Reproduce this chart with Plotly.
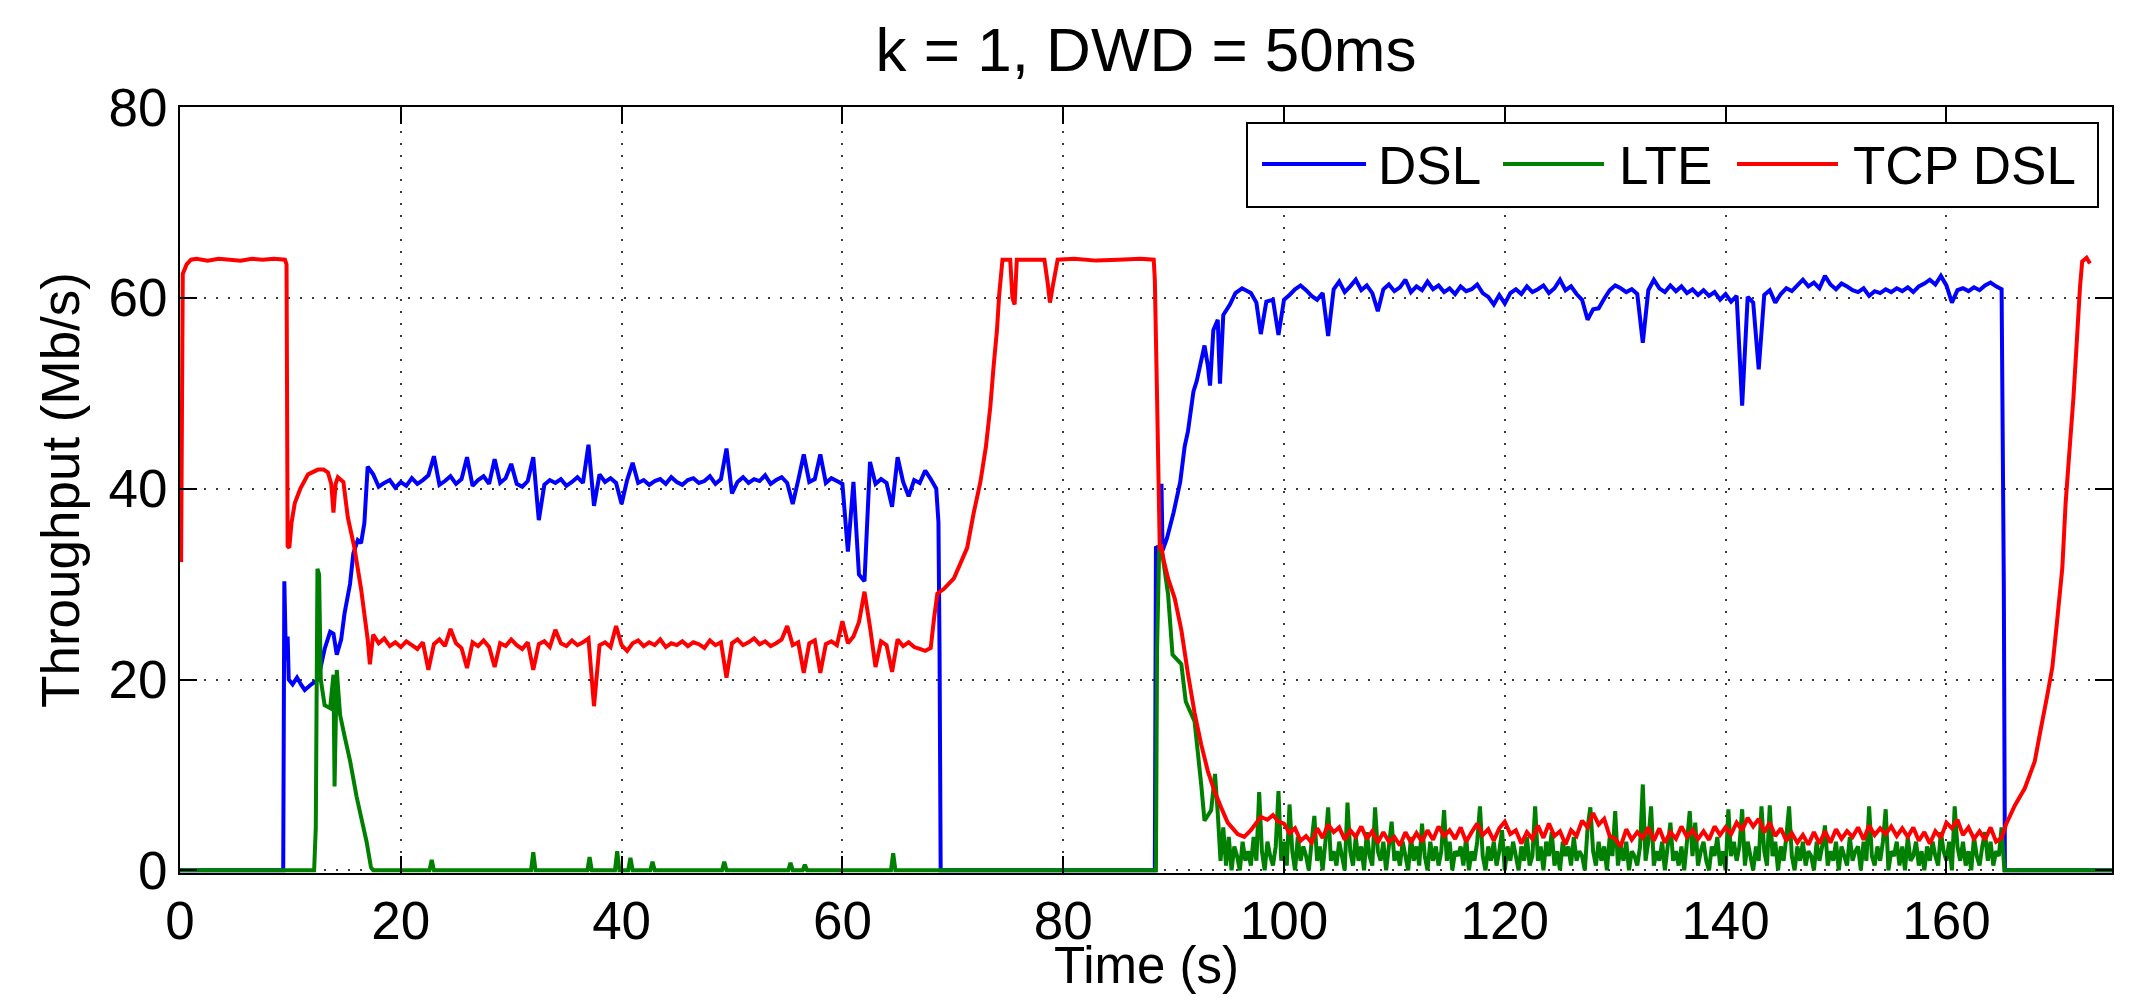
import plotly.graph_objects as go

# ---------------- data ----------------
STEP = 0.5        # sampling step of the steady plateaus (s)
STEP_LTE = 0.25   # sampling step of the dense LTE band (s)

# ---- DSL (blue) ----
dsl_pts_a = [(0, 0), (9.35, 0), (9.45, 30.3), (9.6, 22.0), (9.75, 24.5), (9.85, 20.0), (10.2, 19.5),
             (10.6, 20.2), (11.0, 19.4), (11.3, 18.9), (11.9, 19.5), (12.5, 20.0), (13.1, 23.2),
             (13.6, 25.0), (13.9, 24.8), (14.2, 22.6), (14.6, 24.2), (14.9, 26.9), (15.4, 30.0),
             (15.7, 33.2), (16.1, 34.6), (16.4, 34.3), (16.7, 36.4), (17.0, 42.3)]
dsl_plateau_a_start = 17.5
dsl_plateau_a = [41.5, 40.2, 40.6, 40.9, 40.1, 40.7, 40.3, 41.1, 40.5, 40.9,
                 41.4, 43.4, 40.4, 40.8, 41.3, 40.5, 41.0, 43.3, 40.3, 40.9,
                 41.3, 40.5, 43.1, 40.6, 41.1, 42.6, 40.5, 40.2, 40.8, 43.3,
                 36.7, 40.4, 40.9, 40.6, 41.0, 40.3, 40.7, 41.2, 40.6, 44.6,
                 38.2, 41.5, 40.7, 41.1, 40.6, 38.4, 40.9, 42.7, 40.6, 40.9,
                 40.4, 40.8, 41.0, 40.5, 41.2, 40.7, 40.4, 40.9, 41.1, 40.6,
                 40.8, 41.3, 40.5, 41.0, 44.2, 39.5, 40.7, 41.2, 40.6, 41.0,
                 40.8, 41.4, 40.5, 40.9, 41.2, 40.6, 38.4, 40.9, 43.6, 40.7,
                 41.0, 43.6, 40.6, 41.1, 40.8, 40.5, 33.4, 40.7, 31.0, 30.3,
                 42.8, 40.5, 41.0, 40.6, 38.1, 43.3, 40.7, 39.2, 40.9, 40.6,
                 41.9, 41.0, 40.0]
dsl_pts_b = [(68.7, 36.5), (68.8, 23.0), (68.9, 0), (88.3, 0), (88.4, 33.8), (88.8, 34.0), (88.9, 40.5),
             (89.0, 33.5), (89.4, 34.8), (90.0, 37.5), (90.6, 40.7), (91.0, 44.4), (91.3, 46.0),
             (91.8, 50.2), (92.1, 51.3), (92.4, 52.9), (92.8, 55.0), (93.1, 52.9), (93.3, 50.8),
             (93.6, 56.6), (94.0, 57.7), (94.2, 51.0), (94.5, 58.2), (95.1, 59.3), (95.6, 60.5),
             (96.2, 61.0), (97.0, 60.5), (97.5, 59.5), (97.9, 56.2), (98.4, 59.6), (99.0, 59.8),
             (99.5, 56.1), (100.0, 59.8), (100.5, 60.3), (101.0, 60.9)]
dsl_plateau_b_start = 101.5
dsl_plateau_b = [61.3, 60.8, 60.2, 59.8, 60.5, 56.0, 60.9, 61.7, 60.6, 61.2,
                 61.9, 60.8, 61.3, 60.5, 58.6, 60.9, 61.4, 60.7, 61.1, 61.9,
                 60.6, 61.2, 60.8, 61.7, 60.9, 61.3, 60.6, 61.0, 60.4, 61.2,
                 60.7, 60.9, 61.4, 60.5, 60.1, 59.3, 60.3, 59.4, 60.5, 60.9,
                 60.4, 61.2, 60.6, 60.9, 61.3, 60.5, 61.0, 61.9, 60.8, 61.2,
                 60.4, 59.8, 57.7, 58.8, 58.9, 59.9, 60.8, 61.3, 61.0, 60.6,
                 60.9, 60.4, 55.3, 60.8, 61.9, 61.0, 60.6, 61.3, 60.7, 61.2,
                 60.5, 60.9, 60.3, 60.8, 60.2, 60.6, 59.8, 60.4, 59.6, 60.2,
                 48.7, 60.1, 59.5, 52.5, 60.3, 60.8, 59.5, 60.4, 61.0, 60.7,
                 61.3, 61.9, 61.2, 61.6, 61.0, 62.3, 61.4, 60.9, 61.5, 61.2,
                 60.8, 60.6, 61.0, 60.2, 60.7, 60.5, 60.9, 60.6, 61.0, 60.7,
                 61.1, 60.6, 61.2, 61.5, 61.9, 61.4, 62.3, 61.3, 59.5, 60.8,
                 61.0, 60.7, 61.1, 60.8, 61.3, 61.6, 61.2, 60.9]
dsl_pts_c = [(165.2, 30.0), (165.3, 0), (175.0, 0)]

# ---- LTE (green) ----
lte_pts_a = [(0, 0), (12.15, 0), (12.3, 4.5), (12.45, 31.6), (12.6, 31.0), (12.75, 20.0), (13.1, 17.3),
             (13.6, 17.0), (13.9, 20.5), (14.0, 8.8), (14.2, 21.0), (14.5, 16.3), (14.9, 14.1),
             (15.4, 11.5), (16.0, 7.7), (16.4, 5.6), (16.9, 3.0), (17.3, 0.3), (17.5, 0),
             (22.6, 0), (22.8, 1.1), (23.0, 0), (31.8, 0), (32.0, 1.9), (32.2, 0),
             (36.9, 0), (37.1, 1.4), (37.3, 0), (39.4, 0), (39.6, 2.0), (39.8, 0),
             (40.6, 0), (40.8, 1.3), (41.0, 0), (42.6, 0), (42.8, 0.9), (43.0, 0),
             (49.1, 0), (49.3, 0.9), (49.5, 0), (55.1, 0), (55.3, 0.8), (55.5, 0),
             (56.4, 0), (56.6, 0.6), (56.8, 0), (64.4, 0), (64.6, 1.8), (64.8, 0),
             (88.4, 0), (88.5, 23.0), (88.7, 34.0), (89.0, 33.0), (89.5, 28.9), (89.9, 22.6),
             (90.7, 21.6), (91.1, 17.7), (91.9, 15.6), (92.5, 9.0), (92.8, 5.2), (93.4, 6.3),
             (93.75, 10.1)]
lte_band_start = 94.0
lte_band = [6.0, 1.0, 4.5, 0.5,  3.5, 0.0, 2.5, 1.5,  0.0, 3.0, 1.0, 2.0,  0.5, 3.5, 1.0, 8.2,
            2.0, 0.0, 3.0, 1.5,  0.5, 2.5, 8.3, 1.0,  3.0, 0.5, 6.9, 2.0,  0.0, 3.5, 1.0, 2.5,
            1.5, 0.0, 3.0, 5.7,  1.0, 2.5, 0.0, 3.0,  6.6, 1.0, 2.0, 0.5,  3.0, 1.5, 0.0, 7.1,
            2.0, 0.5, 3.5, 1.0,  2.5, 0.0, 4.0, 1.5,  0.5, 6.6, 2.0, 1.0,  3.0, 0.0, 2.5, 5.1,
            1.0, 2.0, 0.5, 3.0,  1.5, 0.0, 3.5, 1.0,  2.5, 0.5, 4.9, 1.5,  0.0, 3.0, 1.0, 2.5,
            0.5, 2.0, 6.3, 1.0,  3.0, 0.0, 2.0, 1.5,  2.5, 0.5, 3.5, 0.0,  2.0, 1.0, 3.0, 6.7,
            1.5, 0.0, 2.5, 1.0,  3.0, 0.5, 2.0, 4.2,  0.0, 2.5, 1.0, 3.0,  1.5, 0.0, 2.5, 1.0,
            3.5, 0.5, 1.5, 6.7,  1.0, 2.5, 0.0, 3.0,  1.5, 4.0, 0.5, 2.0,  0.0, 3.0, 1.5, 2.5,
            0.5, 3.5, 1.0, 2.0,  1.5, 0.0, 4.5, 6.6,  2.0, 0.5, 3.0, 1.0,  2.5, 0.0, 3.5, 1.5,
            6.2, 0.5, 2.5, 1.0,  3.0, 0.0, 2.0, 1.5,  0.5, 2.5, 9.0, 1.0,  3.0, 6.7, 0.5, 2.0,
            1.0, 3.0, 0.0, 2.5,  5.0, 1.0, 2.0, 0.5,  2.5, 0.0, 3.0, 6.2,  1.5, 5.0, 0.5, 2.0,
            3.0, 1.0, 0.0, 2.5,  1.5, 3.5, 0.5, 2.0,  0.0, 6.4, 1.5, 3.0,  1.0, 2.5, 6.4, 0.5,
            3.0, 1.5, 0.0, 2.5,  1.0, 6.7, 2.0, 0.5,  6.8, 1.5, 3.0, 0.0,  2.5, 1.0, 3.5, 6.7,
            1.5, 0.0, 2.5, 1.0,  3.0, 0.5, 2.0, 1.5,  0.0, 3.0, 1.0, 2.5,  4.7, 0.5, 2.0, 1.0,
            3.0, 0.0, 2.5, 1.5,  0.5, 3.5, 1.0, 2.0,  2.5, 0.0, 3.0, 1.0,  6.7, 1.5, 0.5, 2.5,
            1.0, 3.0, 6.4, 0.0,  2.0, 1.5, 3.0, 0.5,  2.5, 0.0, 3.5, 1.0,  1.5, 3.0, 0.5, 2.0,
            0.0, 2.5, 1.0, 3.0,  1.5, 0.5, 4.0, 2.0,  1.0, 3.0, 0.0, 6.7,  2.5, 1.0, 3.0, 0.5,
            2.0, 0.0, 3.5, 1.5,  0.5, 2.5, 4.0, 1.0,  3.0, 0.5, 2.0, 1.5,  4.5, 0.0]
lte_pts_b = [(165.3, 0), (175.0, 0)]

# ---- TCP DSL (red) ----
tcp_pts_a = [(0.1, 32.3), (0.25, 62.5), (0.6, 63.5), (1.0, 64.0), (1.5, 64.1), (2.5, 63.9), (3.5, 64.1),
             (4.5, 64.0), (5.5, 63.9), (6.5, 64.1), (7.5, 64.0), (8.5, 64.1), (9.5, 64.0), (9.65, 63.5),
             (9.75, 34.0), (9.9, 33.8), (10.1, 36.4), (10.4, 38.5), (10.9, 40.0), (11.6, 41.5),
             (12.5, 42.0), (13.0, 42.0), (13.4, 41.7), (13.7, 40.5), (13.9, 37.5), (14.1, 40.5),
             (14.3, 41.2), (14.8, 40.7), (15.2, 37.0), (15.8, 33.8), (16.4, 29.5), (17.0, 24.2),
             (17.2, 21.6), (17.5, 24.7)]
tcp_plateau_a_start = 18.0
tcp_plateau_a = [23.8, 24.3, 23.5, 23.9, 23.4, 24.0, 23.6, 23.2, 23.9, 21.0,
                 23.7, 24.2, 23.5, 25.3, 23.8, 23.3, 21.2, 23.9, 23.5, 24.1,
                 23.4, 21.3, 23.8, 23.5, 24.2, 23.6, 23.2, 23.9, 21.0, 23.7,
                 24.0, 23.4, 25.2, 23.8, 23.5, 24.1, 23.6, 23.9, 24.3, 17.2,
                 23.6, 23.9, 23.4, 25.6, 23.6, 23.0, 23.8, 24.1, 23.5, 23.9,
                 23.6, 24.2, 23.4, 23.8, 23.6, 24.0, 23.5, 23.9, 23.7, 23.3,
                 24.1, 23.6, 23.9, 20.2, 23.8, 24.2, 23.6, 23.9, 24.3, 23.7,
                 24.0, 23.5, 23.8, 24.2, 25.6, 23.6, 23.9, 20.7, 23.8, 24.1,
                 20.7, 23.7, 24.0, 23.6, 26.1, 23.8, 24.5, 26.0, 29.2, 25.5,
                 21.3, 24.0, 23.6, 20.8, 24.2, 23.5, 23.9, 23.4, 23.2, 23.0, 23.3]
tcp_pts_b = [(68.3, 26.4), (68.6, 29.0), (69.2, 29.5), (70.1, 30.6), (70.7, 32.2), (71.3, 33.8),
             (71.9, 37.5), (72.5, 40.7), (73.0, 44.4), (73.4, 48.6), (73.7, 52.9), (74.0, 56.6),
             (74.2, 60.3), (74.5, 64.0), (75.2, 64.0), (75.4, 60.0), (75.6, 59.3), (75.8, 64.0),
             (77.0, 64.0), (78.3, 64.0), (78.6, 61.5), (78.8, 59.5), (79.1, 61.5), (79.5, 64.0),
             (81.0, 64.1), (83.0, 63.9), (85.0, 64.0), (87.0, 64.1), (88.2, 64.0), (88.3, 61.9),
             (88.5, 49.7), (88.75, 33.5), (88.85, 34.2), (89.1, 32.5), (89.5, 30.6), (90.1, 28.5),
             (90.7, 25.2), (91.3, 20.6), (91.9, 16.5), (92.5, 13.2), (93.1, 10.4), (93.7, 8.3),
             (94.3, 6.6), (94.9, 5.0), (95.8, 3.8), (96.4, 3.5), (97.0, 4.2), (97.9, 5.6),
             (98.5, 5.3), (99.0, 5.8), (99.5, 5.1)]
tcp_plateau_b_start = 100.0
tcp_plateau_b = [4.9, 3.9, 4.4, 3.1, 3.6, 2.9, 4.4, 3.4, 4.8, 4.0,
                 4.5, 3.2, 4.2, 3.5, 4.6, 3.3, 4.1, 2.9, 4.0, 3.0,
                 3.5, 2.6, 4.0, 2.9, 3.9, 3.0, 4.2, 3.2, 4.6, 3.6,
                 4.2, 3.3, 4.5, 3.0, 4.0, 4.9, 3.7, 4.3, 3.1, 4.4,
                 5.1, 3.8, 4.2, 2.8, 4.0, 3.3, 4.7, 3.4, 4.9, 3.6,
                 4.1, 2.7, 4.2, 3.6, 5.2, 4.5, 6.0, 4.8, 5.4, 3.6,
                 3.3, 2.5, 4.3, 3.2, 4.0, 3.4, 4.5, 3.1, 4.4, 2.9,
                 4.0, 3.3, 4.6, 3.5, 4.2, 3.3, 4.1, 3.2, 4.6, 3.7,
                 4.5, 3.8, 5.0, 4.2, 5.5, 4.6, 5.4, 4.0, 5.0, 3.6,
                 4.4, 3.1, 3.9, 2.9, 3.7, 2.7, 4.0, 2.8, 4.1, 2.9,
                 4.3, 3.3, 4.1, 3.5, 4.5, 3.2, 4.7, 3.7, 4.4, 3.8,
                 4.6, 3.6, 4.4, 3.5, 4.5, 3.1, 4.0, 2.8, 4.1, 3.4,
                 5.0, 4.4, 5.3, 3.7, 4.5, 3.3, 4.1, 3.2, 4.5, 3.0, 3.4]
tcp_pts_c = [(165.4, 4.8), (166.2, 6.8), (167.1, 8.6), (168.0, 11.4), (168.5, 14.5), (169.1, 18.1),
             (169.6, 21.3), (170.0, 25.8), (170.5, 31.7), (170.8, 38.5), (171.2, 44.8), (171.5, 49.4),
             (171.8, 55.2), (172.1, 61.1), (172.3, 63.8), (172.7, 64.2), (173.0, 63.6)]

series_names = ["DSL", "LTE", "TCP DSL"]
series_colors = ["#0000FF", "#008000", "#FF0000"]
title_text = "k = 1, DWD = 50ms"
x_label = "Time (s)"
y_label = "Throughput (Mb/s)"
x_ticks = [0, 20, 40, 60, 80, 100, 120, 140, 160]
y_ticks = [0, 20, 40, 60, 80]


# ---------------- assembling ----------------
def pts(p):
    return [a for a, _ in p], [b for _, b in p]


def uniform(start, step, vals):
    return [round(start + step * i, 3) for i in range(len(vals))], list(vals)


def join(*parts):
    xs, ys = [], []
    for x, y in parts:
        xs += x
        ys += y
    return xs, ys


dsl_t, dsl_v = join(pts(dsl_pts_a), uniform(dsl_plateau_a_start, STEP, dsl_plateau_a),
                    pts(dsl_pts_b), uniform(dsl_plateau_b_start, STEP, dsl_plateau_b), pts(dsl_pts_c))
lte_t, lte_v = join(pts(lte_pts_a), uniform(lte_band_start, STEP_LTE, lte_band), pts(lte_pts_b))
tcp_t, tcp_v = join(pts(tcp_pts_a), uniform(tcp_plateau_a_start, STEP, tcp_plateau_a),
                    pts(tcp_pts_b), uniform(tcp_plateau_b_start, STEP, tcp_plateau_b), pts(tcp_pts_c))

W, H = 2131, 1000
L, R, T, B = 180, 2112, 107, 873
FONT = "Liberation Sans, Arial, Helvetica, sans-serif"

fig = go.Figure()
for (tx, vy), name, col in zip([(dsl_t, dsl_v), (lte_t, lte_v), (tcp_t, tcp_v)], series_names, series_colors):
    fig.add_trace(go.Scatter(x=tx, y=vy, mode="lines", name=name,
                             line=dict(color=col, width=4, simplify=False), showlegend=False))

axis_common = dict(showline=True, linecolor="black", linewidth=2, mirror="ticks",
                   ticks="inside", ticklen=17, tickwidth=2, tickcolor="black",
                   showgrid=True, gridcolor="#3a3a3a", gridwidth=2, griddash="2px,10px",
                   zeroline=False, tickfont=dict(size=53, color="black", family=FONT))

fig.update_xaxes(range=[0, 175], tickvals=x_ticks, **axis_common)
fig.update_yaxes(range=[-0.28, 80], tickvals=y_ticks, title=dict(text=y_label, font=dict(size=53), standoff=12),
                 **axis_common)


def px(xp):
    return (xp - L) / (R - L)


def py(yp):
    return (B - yp) / (B - T)


# legend (drawn as a framed box with long line samples, as in the reference)
legend_box = (1247, 123, 2098, 207)
legend_line_y = 164
legend_lines = [(1262, 1366), (1503, 1604), (1737, 1838)]
legend_text_x = [1376, 1617, 1851]

shapes = [dict(type="rect", xref="paper", yref="paper", x0=px(legend_box[0]), x1=px(legend_box[2]),
               y0=py(legend_box[3]), y1=py(legend_box[1]), line=dict(color="black", width=2),
               fillcolor="white", layer="above")]
annotations = []
for (x0, x1), tx, name, col in zip(legend_lines, legend_text_x, series_names, series_colors):
    shapes.append(dict(type="line", xref="paper", yref="paper", x0=px(x0), x1=px(x1),
                       y0=py(legend_line_y), y1=py(legend_line_y), line=dict(color=col, width=4),
                       layer="above"))
    annotations.append(dict(text=name, xref="paper", yref="paper", x=px(tx), y=py(165),
                            xanchor="left", yanchor="middle", showarrow=False,
                            font=dict(size=53, color="black", family=FONT)))

# x-axis title, placed just under the tick labels as in the reference
annotations.append(dict(text=x_label, xref="paper", yref="paper", x=0.5, y=py(965),
                        xanchor="center", yanchor="middle", showarrow=False,
                        font=dict(size=51, color="black", family=FONT)))

fig.update_layout(width=W, height=H, autosize=False,
                  margin=dict(l=L, r=W - R, t=T, b=H - B, pad=0, autoexpand=False),
                  paper_bgcolor="white", plot_bgcolor="white",
                  font=dict(family=FONT, size=53, color="black"),
                  title=dict(text=title_text, x=0.5, xref="paper", xanchor="center",
                             y=1 - 49 / H, yref="container", yanchor="middle",
                             font=dict(size=62, color="black", family=FONT)),
                  shapes=shapes, annotations=annotations, showlegend=False)

fig.write_html("out.html")
